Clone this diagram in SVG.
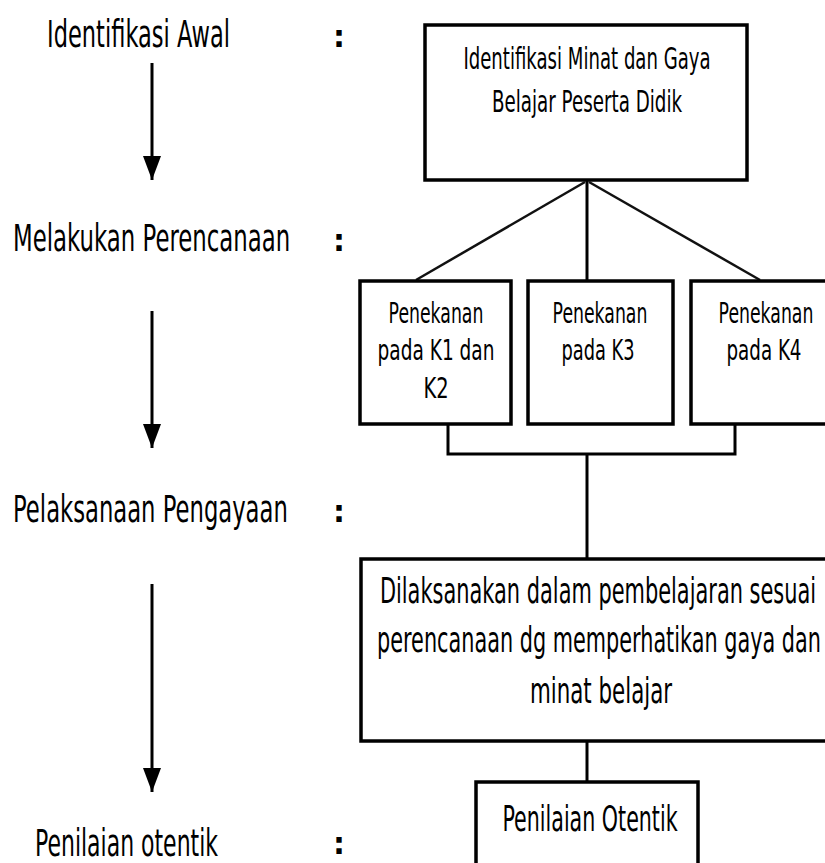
<svg xmlns="http://www.w3.org/2000/svg" width="825" height="863" viewBox="0 0 825 863">
<defs>
<style>
.t{font-family:"DejaVu Sans","Liberation Sans",sans-serif;fill:#000;}
.lab{font-size:37px;}
.col{font-size:30px;font-weight:bold;}
.b1{font-size:30px;text-anchor:middle;}
.b2{font-size:28px;text-anchor:middle;}
.b3{font-size:35px;text-anchor:middle;}
.box{fill:#fff;stroke:#000;stroke-width:3.5;}
.ln{fill:none;stroke:#000;stroke-width:3;}
.dg{fill:none;stroke:#111;stroke-width:2.5;}
</style>
<marker id="ah" markerWidth="8" markerHeight="6" refX="8" refY="3" orient="auto" markerUnits="strokeWidth" viewBox="0 0 8 6">
<path d="M0,0 L8,3 L0,6 Z" fill="#000"/>
</marker>
</defs>
<rect width="825" height="863" fill="#fff"/>

<g id="labels">
<text class="t lab" transform="translate(47,47) scale(0.6,1)" textLength="305" lengthAdjust="spacingAndGlyphs">Identifikasi Awal</text>
<text class="t lab" transform="translate(13,251) scale(0.6,1)" textLength="462" lengthAdjust="spacingAndGlyphs">Melakukan Perencanaan</text>
<text class="t lab" transform="translate(13,522) scale(0.6,1)" textLength="458" lengthAdjust="spacingAndGlyphs">Pelaksanaan Pengayaan</text>
<text class="t lab" transform="translate(35,856) scale(0.6,1)" textLength="305" lengthAdjust="spacingAndGlyphs">Penilaian otentik</text>
<text class="t col" x="333" y="47">:</text>
<text class="t col" x="333" y="251">:</text>
<text class="t col" x="333" y="522">:</text>
<text class="t col" x="333" y="854">:</text>
</g>

<g id="connectors">
<line class="ln" x1="152" y1="63" x2="152" y2="180" marker-end="url(#ah)"/>
<line class="ln" x1="152" y1="311" x2="152" y2="448" marker-end="url(#ah)"/>
<line class="ln" x1="152" y1="584" x2="152" y2="792" marker-end="url(#ah)"/>
<line class="ln" x1="587" y1="181" x2="587" y2="281"/>
<line class="dg" x1="585" y1="182" x2="416" y2="280"/>
<line class="dg" x1="589" y1="182" x2="760" y2="280"/>
<polyline class="ln" points="448,424 448,454 735,454 735,424"/>
<line class="ln" x1="587" y1="454" x2="587" y2="559"/>
<line class="ln" x1="587" y1="741" x2="587" y2="782"/>
</g>

<g id="node-identifikasi">
<rect class="box" x="425" y="25" width="322" height="155"/>
<text class="t b1" transform="translate(587,69) scale(0.6,1)" textLength="412" lengthAdjust="spacingAndGlyphs">Identifikasi Minat dan Gaya</text>
<text class="t b1" transform="translate(587,112) scale(0.6,1)" textLength="317" lengthAdjust="spacingAndGlyphs">Belajar Peserta Didik</text>
</g>

<g id="node-k1k2">
<rect class="box" x="360" y="281" width="151" height="143"/>
<text class="t b2" transform="translate(436,323) scale(0.6,1)" textLength="158" lengthAdjust="spacingAndGlyphs">Penekanan</text>
<text class="t b2" transform="translate(436,360) scale(0.6,1)" textLength="195" lengthAdjust="spacingAndGlyphs">pada K1 dan</text>
<text class="t b2" transform="translate(436,398) scale(0.6,1)" textLength="42" lengthAdjust="spacingAndGlyphs">K2</text>
</g>

<g id="node-k3">
<rect class="box" x="528" y="281" width="145" height="143"/>
<text class="t b2" transform="translate(600,323) scale(0.6,1)" textLength="158" lengthAdjust="spacingAndGlyphs">Penekanan</text>
<text class="t b2" transform="translate(598,360) scale(0.6,1)" textLength="122" lengthAdjust="spacingAndGlyphs">pada K3</text>
</g>

<g id="node-k4">
<rect class="box" x="691" y="281" width="145" height="143"/>
<text class="t b2" transform="translate(766,323) scale(0.6,1)" textLength="158" lengthAdjust="spacingAndGlyphs">Penekanan</text>
<text class="t b2" transform="translate(764,360) scale(0.6,1)" textLength="125" lengthAdjust="spacingAndGlyphs">pada K4</text>
</g>

<g id="node-pelaksanaan">
<rect class="box" x="361" y="559" width="475" height="182"/>
<text class="t b3" transform="translate(598,603) scale(0.6,1)" textLength="727" lengthAdjust="spacingAndGlyphs">Dilaksanakan dalam pembelajaran sesuai</text>
<text class="t b3" transform="translate(599,652) scale(0.6,1)" textLength="740" lengthAdjust="spacingAndGlyphs">perencanaan dg memperhatikan gaya dan</text>
<text class="t b3" transform="translate(601,703) scale(0.6,1)" textLength="237" lengthAdjust="spacingAndGlyphs">minat belajar</text>
</g>

<g id="node-penilaian">
<rect class="box" x="476" y="782" width="222" height="100"/>
<text class="t b3" transform="translate(590,831) scale(0.6,1)" textLength="292" lengthAdjust="spacingAndGlyphs">Penilaian Otentik</text>
</g>
</svg>
